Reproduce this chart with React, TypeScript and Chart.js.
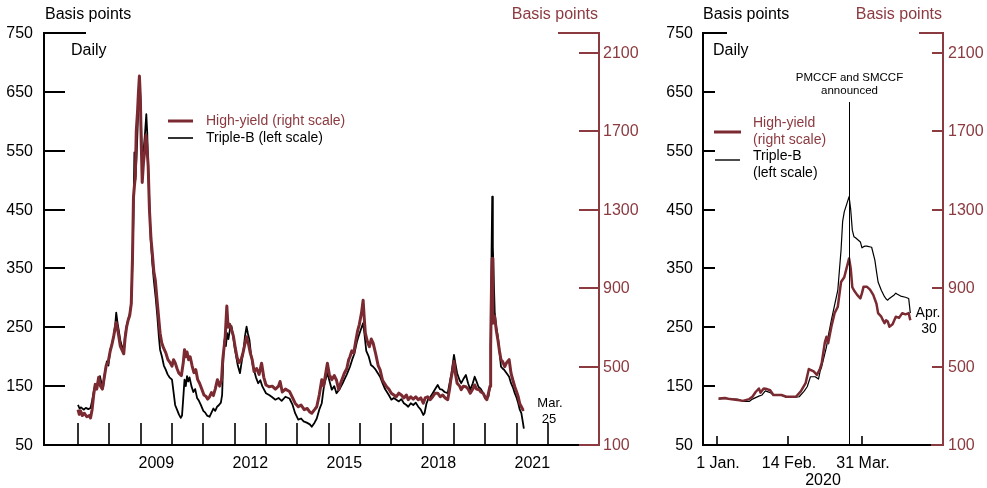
import React, { useEffect, useRef } from "react";
import { Chart, registerables } from "chart.js";

Chart.register(...registerables);

const FONT = '"Liberation Sans", Arial, Helvetica, sans-serif';
const BLACK = "#000000";
const RED_LINE = "#7a2a30";
const RED = "#8b3a40";

// ---------- Left panel: daily, 2007 to Mar. 25, 2021 (x = year) ----------
const tbYears = [
  2007.00, 2007.05, 2007.10, 2007.18, 2007.25, 2007.33, 2007.40, 2007.45, 2007.50, 2007.55,
  2007.60, 2007.65, 2007.70, 2007.75, 2007.80, 2007.85, 2007.92, 2007.97, 2008.03, 2008.08,
  2008.14, 2008.19, 2008.22, 2008.26, 2008.30, 2008.35, 2008.40, 2008.46, 2008.50, 2008.55,
  2008.60, 2008.65, 2008.70, 2008.74, 2008.77, 2008.80, 2008.83, 2008.87, 2008.91, 2008.95,
  2008.97, 2009.00, 2009.03, 2009.06, 2009.10, 2009.14, 2009.18, 2009.21, 2009.24, 2009.28,
  2009.32, 2009.37, 2009.42, 2009.48, 2009.53, 2009.58, 2009.62, 2009.68, 2009.74, 2009.80,
  2009.86, 2009.92, 2010.00, 2010.05, 2010.10, 2010.16, 2010.22, 2010.28, 2010.32, 2010.36,
  2010.40, 2010.44, 2010.48, 2010.52, 2010.56, 2010.62, 2010.68, 2010.74, 2010.80, 2010.86,
  2010.92, 2011.00, 2011.06, 2011.12, 2011.20, 2011.26, 2011.32, 2011.38, 2011.44, 2011.50,
  2011.56, 2011.60, 2011.64, 2011.68, 2011.72, 2011.76, 2011.80, 2011.86, 2011.90, 2011.95,
  2012.00, 2012.05, 2012.10, 2012.17, 2012.22, 2012.28, 2012.33, 2012.38, 2012.42, 2012.47,
  2012.52, 2012.58, 2012.63, 2012.68, 2012.75, 2012.82, 2012.88, 2013.00, 2013.10, 2013.18,
  2013.30, 2013.40, 2013.50, 2013.62, 2013.75, 2013.85, 2013.93, 2014.03, 2014.12, 2014.20,
  2014.30, 2014.40, 2014.46, 2014.55, 2014.62, 2014.70, 2014.78, 2014.85, 2014.92, 2014.96,
  2015.02, 2015.10, 2015.18, 2015.25, 2015.35, 2015.45, 2015.50, 2015.58, 2015.68, 2015.75,
  2015.82, 2015.90, 2015.95, 2016.02, 2016.10, 2016.14, 2016.20, 2016.28, 2016.35, 2016.42,
  2016.50, 2016.57, 2016.64, 2016.72, 2016.80, 2016.85, 2016.92, 2017.00, 2017.08, 2017.16,
  2017.24, 2017.32, 2017.40, 2017.48, 2017.54, 2017.62, 2017.70, 2017.78, 2017.86, 2017.94,
  2018.02, 2018.06, 2018.12, 2018.17, 2018.25, 2018.32, 2018.40, 2018.48, 2018.55, 2018.62,
  2018.70, 2018.80, 2018.86, 2018.92, 2019.00, 2019.04, 2019.10, 2019.18, 2019.23, 2019.30,
  2019.38, 2019.45, 2019.52, 2019.60, 2019.66, 2019.72, 2019.78, 2019.86, 2019.93, 2020.03,
  2020.10, 2020.15, 2020.18, 2020.20, 2020.22, 2020.24, 2020.27, 2020.30, 2020.35, 2020.40,
  2020.45, 2020.50, 2020.55, 2020.60, 2020.68, 2020.76, 2020.82, 2020.88, 2020.94, 2021.00,
  2021.05, 2021.10, 2021.15, 2021.20, 2021.23,
];
const tbSpread = [
  118, 112, 114, 110, 113, 111, 113, 125, 140, 153,
  148, 160, 167, 155, 147, 170, 192, 185, 212, 220,
  235, 255, 275, 258, 245, 228, 218, 207, 235, 252,
  263, 272, 290, 365, 440, 547, 500, 540, 600, 660,
  672, 620, 560, 505, 555, 580, 612, 580, 520, 460,
  400, 360, 330, 300, 270, 235, 212, 200, 185, 178,
  170, 165, 161, 140, 118, 110, 102, 96, 100, 130,
  161, 150, 167, 158, 165, 150, 140, 145, 130, 125,
  118, 108, 105, 100, 98, 105, 112, 108, 115, 118,
  122, 135, 200, 229, 218, 240, 230, 250, 252, 235,
  215, 200, 185, 172, 190, 210, 235, 251, 240, 229,
  205, 185, 175, 165, 155, 160, 150, 138, 135, 132,
  127, 130, 125, 132, 129, 118, 104, 93, 95, 90,
  88, 85, 81, 88, 95, 110, 121, 150, 165, 172,
  160, 144, 150, 138, 145, 155, 161, 170, 183, 195,
  205, 225, 234, 245, 257, 240, 210, 200, 186, 183,
  178, 172, 166, 155, 145, 141, 135, 127, 130, 127,
  124, 128, 121, 118, 115, 121, 118, 122, 115, 110,
  101, 104, 120, 127, 132, 138, 145, 152, 145, 144,
  140, 138, 155, 172, 203, 190, 172, 160, 155, 162,
  169, 155, 144, 155, 166, 158, 149, 145, 138, 129,
  132, 150, 250, 380, 472, 387, 330, 274, 250, 234,
  210, 183, 180, 178, 172, 166, 155, 148, 138, 130,
  121, 110, 104, 88, 78,
];

const hyYears = [
  2007.00, 2007.04, 2007.08, 2007.14, 2007.20, 2007.28, 2007.36, 2007.40, 2007.45, 2007.50,
  2007.55, 2007.60, 2007.66, 2007.72, 2007.78, 2007.84, 2007.90, 2007.96, 2008.03, 2008.08,
  2008.14, 2008.19, 2008.22, 2008.26, 2008.30, 2008.35, 2008.40, 2008.46, 2008.50, 2008.55,
  2008.60, 2008.65, 2008.70, 2008.74, 2008.77, 2008.80, 2008.83, 2008.86, 2008.90, 2008.93,
  2008.96, 2008.99, 2009.02, 2009.05, 2009.09, 2009.13, 2009.17, 2009.20, 2009.24, 2009.28,
  2009.33, 2009.37, 2009.42, 2009.47, 2009.52, 2009.57, 2009.62, 2009.67, 2009.73, 2009.80,
  2009.87, 2009.94, 2010.00, 2010.05, 2010.10, 2010.16, 2010.22, 2010.30, 2010.36, 2010.40,
  2010.44, 2010.48, 2010.53, 2010.58, 2010.64, 2010.70, 2010.76, 2010.82, 2010.88, 2010.95,
  2011.02, 2011.08, 2011.14, 2011.20, 2011.26, 2011.32, 2011.38, 2011.45, 2011.52, 2011.58,
  2011.62, 2011.66, 2011.70, 2011.75, 2011.79, 2011.84, 2011.90, 2011.96, 2012.02, 2012.08,
  2012.14, 2012.20, 2012.26, 2012.32, 2012.38, 2012.44, 2012.50, 2012.56, 2012.62, 2012.70,
  2012.78, 2012.86, 2012.93, 2013.00, 2013.10, 2013.20, 2013.30, 2013.40, 2013.45, 2013.52,
  2013.62, 2013.75, 2013.85, 2013.93, 2014.03, 2014.12, 2014.22, 2014.32, 2014.40, 2014.46,
  2014.55, 2014.62, 2014.70, 2014.78, 2014.84, 2014.90, 2014.96, 2015.02, 2015.10, 2015.18,
  2015.25, 2015.32, 2015.40, 2015.50, 2015.58, 2015.64, 2015.68, 2015.74, 2015.80, 2015.86,
  2015.92, 2015.98, 2016.05, 2016.10, 2016.13, 2016.17, 2016.24, 2016.30, 2016.36, 2016.42,
  2016.50, 2016.58, 2016.64, 2016.72, 2016.78, 2016.85, 2016.92, 2017.00, 2017.08, 2017.16,
  2017.24, 2017.32, 2017.40, 2017.48, 2017.54, 2017.62, 2017.70, 2017.78, 2017.86, 2017.94,
  2018.02, 2018.08, 2018.16, 2018.24, 2018.32, 2018.40, 2018.48, 2018.56, 2018.64, 2018.72,
  2018.80, 2018.86, 2018.90, 2018.95, 2019.00, 2019.05, 2019.10, 2019.18, 2019.23, 2019.30,
  2019.38, 2019.45, 2019.52, 2019.60, 2019.66, 2019.72, 2019.80, 2019.86, 2019.93, 2020.00,
  2020.05, 2020.10, 2020.15, 2020.17, 2020.20, 2020.22, 2020.24, 2020.26, 2020.30, 2020.35,
  2020.40, 2020.45, 2020.50, 2020.55, 2020.62, 2020.68, 2020.76, 2020.82, 2020.88, 2020.94,
  2021.00, 2021.05, 2021.10, 2021.15, 2021.20, 2021.23,
];
const hySpread = [
  280, 256, 274, 250, 262, 244, 250, 238, 280, 355,
  409, 385, 445, 400, 385, 445, 505, 520, 580, 610,
  655, 700, 724, 694, 655, 604, 586, 565, 640, 700,
  736, 760, 820, 1060, 1360, 1420, 1470, 1700, 1800, 1900,
  1981, 1870, 1630, 1438, 1540, 1600, 1680, 1620, 1522, 1300,
  1150, 1081, 985, 937, 844, 757, 670, 622, 595, 571,
  535, 520, 502, 535, 520, 490, 466, 454, 520, 586,
  550, 574, 535, 550, 505, 469, 484, 433, 415, 385,
  355, 349, 334, 346, 367, 352, 385, 433, 400, 430,
  535, 595, 655, 808, 700, 715, 688, 655, 595, 544,
  520, 532, 565, 610, 652, 616, 568, 535, 475, 490,
  460, 517, 445, 406, 397, 400, 385, 400, 424, 370,
  385, 373, 340, 313, 295, 304, 280, 286, 268, 262,
  280, 295, 355, 433, 400, 460, 517, 460, 433, 454,
  430, 382, 424, 466, 490, 535, 550, 580, 568, 625,
  679, 715, 775, 838, 760, 670, 625, 601, 640, 619,
  565, 505, 484, 430, 415, 397, 385, 364, 355, 346,
  364, 355, 340, 355, 331, 346, 334, 346, 331, 340,
  313, 340, 346, 331, 346, 364, 364, 346, 355, 340,
  331, 385, 433, 475, 526, 460, 415, 400, 382, 400,
  397, 385, 364, 385, 406, 385, 382, 370, 364, 340,
  331, 364, 400, 601, 940, 1051, 721, 760, 754, 685,
  637, 580, 535, 526, 499, 520, 535, 466, 430, 397,
  370, 346, 310, 295, 280, 283,
];

const leftTickValues = [50, 150, 250, 350, 450, 550, 650, 750];
const rightTickValues = [100, 500, 900, 1300, 1700, 2100];
const yearTicks = [2007, 2008, 2009, 2010, 2011, 2012, 2013, 2014, 2015, 2016, 2017, 2018, 2019, 2020, 2021, 2022];
const yearLabels = ["2009", "2012", "2015", "2018", "2021"];

// ---------- Right panel: 2020 (x = days since 1 Jan. 2020) ----------
const zoomTbDays = [
  1, 5, 8, 12, 14, 16, 20, 22, 26, 28, 30, 33, 35, 40, 43, 48, 51, 54, 56, 58,
  61, 63, 64, 65, 68, 69, 71, 72, 75, 77, 78, 79, 82, 83, 84, 85, 86, 89, 90, 91,
  92, 93, 96, 98, 99, 100, 102, 104, 105, 106, 107, 110, 111, 112, 114, 117, 119, 120,
];
const zoomTbSpread = [
  128, 129, 128, 128, 127, 124, 124, 128, 133, 135, 142, 139, 135, 135, 131, 131, 132, 141, 149, 166,
  166, 162, 175, 183, 217, 234, 262, 275, 313, 381, 430, 446, 472, 450, 415, 404, 402, 395, 385, 387,
  388, 388, 386, 364, 345, 327, 313, 302, 298, 296, 299, 305, 308, 306, 303, 301, 299, 274,
];
const zoomHyDays = [
  1, 5, 8, 14, 16, 20, 22, 24, 26, 27, 29, 31, 33, 35, 40, 43, 49, 52, 55, 57,
  60, 62, 64, 65, 67, 68, 69, 71, 73, 75, 77, 79, 82, 83, 84, 85, 87, 89, 90, 91,
  93, 95, 97, 99, 100, 102, 103, 104, 105, 106, 107, 109, 111, 113, 115, 117, 119, 120,
];
const zoomHySpread = [
  337, 340, 334, 328, 325, 334, 346, 370, 388, 367, 388, 385, 379, 355, 355, 346, 346, 373, 415, 487,
  475, 457, 490, 517, 625, 652, 619, 703, 772, 805, 931, 955, 1051, 1000, 904, 889, 865, 847, 874, 907,
  907, 892, 865, 820, 772, 754, 736, 721, 736, 730, 703, 715, 754, 748, 772, 766, 772, 736,
];
const zoomTickDays = [0, 44, 90];
const zoomTickLabels = ["1 Jan.", "14 Feb.", "31 Mar."];
const announceDay = 82;

// ---------- drawing helpers ----------
function seg(ctx: CanvasRenderingContext2D, x1: number, y1: number, x2: number, y2: number, color: string, w: number) {
  ctx.beginPath();
  ctx.strokeStyle = color;
  ctx.lineWidth = w;
  ctx.moveTo(x1, y1);
  ctx.lineTo(x2, y2);
  ctx.stroke();
}
function txt(ctx: CanvasRenderingContext2D, s: string, x: number, y: number, color: string, size: number, align: CanvasTextAlign) {
  ctx.fillStyle = color;
  ctx.font = `${size}px ${FONT}`;
  ctx.textAlign = align;
  ctx.textBaseline = "middle";
  ctx.fillText(s, x, y);
}

const leftDecor = {
  id: "leftDecor",
  afterDraw(chart: any) {
    const ctx = chart.ctx as CanvasRenderingContext2D;
    const { left, right, top, bottom } = chart.chartArea;
    const xs = chart.scales.x, ys = chart.scales.y, yr = chart.scales.y1;
    ctx.save();
    ctx.lineCap = "butt";
    for (const yv of yearTicks) {
      const px = Math.round(xs.getPixelForValue(yv));
      seg(ctx, px, bottom, px, bottom - 22, BLACK, 1.6);
    }
    yearLabels.forEach((l) => txt(ctx, l, xs.getPixelForValue(Number(l) + 0.5), bottom + 19, BLACK, 16, "center"));
    seg(ctx, left, top - 1, left, bottom + 1, BLACK, 2);
    seg(ctx, left - 1, bottom, right - 20, bottom, BLACK, 2);
    for (const v of leftTickValues) {
      const py = Math.round(ys.getPixelForValue(v));
      seg(ctx, left, py, left + (v === 750 ? 42 : 21), py, BLACK, 2);
      txt(ctx, String(v), left - 11, py + 1, BLACK, 16, "right");
    }
    seg(ctx, right, top - 1, right, bottom + 1, RED, 2);
    seg(ctx, right - 20, bottom, right + 1, bottom, RED, 2);
    seg(ctx, right - 41, top, right, top, RED, 2);
    for (const v of rightTickValues) {
      const py = Math.round(yr.getPixelForValue(v));
      seg(ctx, right - 20, py, right, py, RED, 2);
      txt(ctx, String(v), right + 4, py + 1, RED, 16, "left");
    }
    txt(ctx, "Basis points", 45, 15, BLACK, 16, "left");
    txt(ctx, "Basis points", right - 1, 15, RED, 16, "right");
    txt(ctx, "Daily", 71, 51, BLACK, 16, "left");
    seg(ctx, 168, 121, 193, 121, RED_LINE, 3);
    txt(ctx, "High-yield (right scale)", 206, 121, RED, 14, "left");
    seg(ctx, 168, 138, 193, 138, BLACK, 1.6);
    txt(ctx, "Triple-B (left scale)", 206, 138, BLACK, 14, "left");
    txt(ctx, "Mar.", 550, 403, BLACK, 13, "center");
    txt(ctx, "25", 549, 419, BLACK, 13, "center");
    ctx.restore();
  },
};

const rightDecor = {
  id: "rightDecor",
  afterDraw(chart: any) {
    const ctx = chart.ctx as CanvasRenderingContext2D;
    const { left, right, top, bottom } = chart.chartArea;
    const xs = chart.scales.x, ys = chart.scales.y, yr = chart.scales.y1;
    ctx.save();
    ctx.lineCap = "butt";
    const ax = Math.round(xs.getPixelForValue(announceDay)) + 0.5;
    seg(ctx, ax, 102, ax, bottom, BLACK, 1);
    txt(ctx, "PMCCF and SMCCF", ax, 78, BLACK, 11.5, "center");
    txt(ctx, "announced", ax, 91, BLACK, 11.5, "center");
    zoomTickDays.forEach((d, i) => {
      const px = Math.round(xs.getPixelForValue(d));
      seg(ctx, px, bottom, px, bottom - 9, BLACK, 1.6);
      txt(ctx, zoomTickLabels[i], px + 1, bottom + 19, BLACK, 16, "center");
    });
    txt(ctx, "2020", (left + right) / 2, bottom + 36, BLACK, 16, "center");
    seg(ctx, left, top - 1, left, bottom + 1, BLACK, 2);
    seg(ctx, left - 1, bottom, right - 12, bottom, BLACK, 2);
    for (const v of leftTickValues) {
      const py = Math.round(ys.getPixelForValue(v));
      seg(ctx, left, py, left + (v === 750 ? 24 : 12), py, BLACK, 2);
      txt(ctx, String(v), left - 10, py + 1, BLACK, 16, "right");
    }
    seg(ctx, right, top - 1, right, bottom + 1, RED, 2);
    seg(ctx, right - 12, bottom, right + 1, bottom, RED, 2);
    seg(ctx, right - 24, top, right, top, RED, 2);
    for (const v of rightTickValues) {
      const py = Math.round(yr.getPixelForValue(v));
      seg(ctx, right - 11, py, right, py, RED, 2);
      txt(ctx, String(v), right + 5, py + 1, RED, 16, "left");
    }
    txt(ctx, "Basis points", left, 15, BLACK, 16, "left");
    txt(ctx, "Basis points", right - 1, 15, RED, 16, "right");
    txt(ctx, "Daily", 63, 51, BLACK, 16, "left");
    seg(ctx, 64, 132, 91, 132, RED_LINE, 3);
    txt(ctx, "High-yield", 103, 123, RED, 14, "left");
    txt(ctx, "(right scale)", 103, 140, RED, 14, "left");
    seg(ctx, 65, 160, 90, 160, BLACK, 1.4);
    txt(ctx, "Triple-B", 103, 156, BLACK, 14, "left");
    txt(ctx, "(left scale)", 103, 173, BLACK, 14, "left");
    txt(ctx, "Apr.", 278, 313, BLACK, 14, "center");
    txt(ctx, "30", 279, 329, BLACK, 14, "center");
    ctx.restore();
  },
};

function makeConfig(
  hyX: number[], hyY: number[], tbX: number[], tbY: number[],
  xMin: number, xMax: number, padding: any, hyW: number, tbW: number, decor: any
): any {
  return {
    type: "line",
    data: {
      datasets: [
        {
          label: "High-yield (right scale)",
          data: hyX.map((x, i) => ({ x, y: hyY[i] })),
          yAxisID: "y1",
          borderColor: RED_LINE,
          borderWidth: hyW,
          pointRadius: 0,
          tension: 0,
          borderJoinStyle: "round",
        },
        {
          label: "Triple-B (left scale)",
          data: tbX.map((x, i) => ({ x, y: tbY[i] })),
          yAxisID: "y",
          borderColor: BLACK,
          borderWidth: tbW,
          pointRadius: 0,
          tension: 0,
          borderJoinStyle: "round",
        },
      ],
    },
    options: {
      responsive: false,
      animation: false,
      devicePixelRatio: 1,
      events: [],
      layout: { padding },
      plugins: { legend: { display: false }, tooltip: { enabled: false }, title: { display: false } },
      scales: {
        x: { type: "linear", min: xMin, max: xMax, display: false },
        y: { type: "linear", min: 50, max: 750, display: false },
        y1: { type: "linear", position: "right", min: 100, max: 2200, display: false },
      },
    },
    plugins: [decor],
  };
}

export default function App() {
  const leftRef = useRef<HTMLCanvasElement>(null);
  const rightRef = useRef<HTMLCanvasElement>(null);

  useEffect(() => {
    const c1 = new Chart(
      leftRef.current as HTMLCanvasElement,
      makeConfig(hyYears, hySpread, tbYears, tbSpread, 2005.915, 2023.628,
        { left: 44, right: 51, top: 33, bottom: 43 }, 3, 1.8, leftDecor)
    );
    const c2 = new Chart(
      rightRef.current as HTMLCanvasElement,
      makeConfig(zoomHyDays, zoomHySpread, zoomTbDays, zoomTbSpread, -8.69, 140.3,
        { left: 53, right: 44, top: 33, bottom: 43 }, 2.5, 1.2, rightDecor)
    );
    return () => {
      c1.destroy();
      c2.destroy();
    };
  }, []);

  return (
    <div style={{ position: "absolute", left: 0, top: 0, width: 987, height: 488, background: "#fff" }}>
      <canvas ref={leftRef} width={650} height={488} style={{ position: "absolute", left: 0, top: 0, width: 650, height: 488 }} />
      <canvas ref={rightRef} width={337} height={488} style={{ position: "absolute", left: 650, top: 0, width: 337, height: 488 }} />
    </div>
  );
}
